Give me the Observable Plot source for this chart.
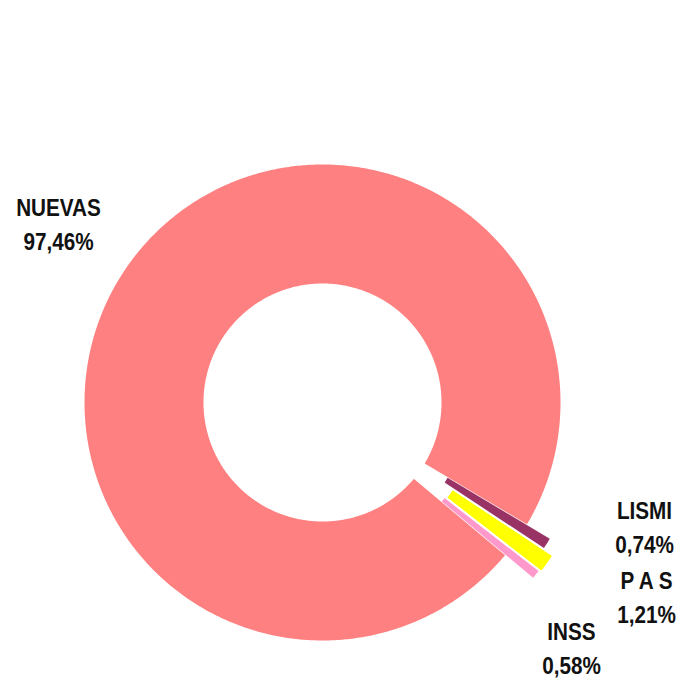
<!DOCTYPE html>
<html>
<head>
<meta charset="utf-8">
<script src="https://cdn.jsdelivr.net/npm/d3@7"></script>
<script src="https://cdn.jsdelivr.net/npm/@observablehq/plot@0.6"></script>
<style>
  html, body { margin: 0; padding: 0; background: #ffffff; }
  #chart svg { display: block; }
</style>
</head>
<body>
<div id="chart"></div>
<script>
// ---- data ----
const categories = ["LISMI", "P A S", "INSS", "NUEVAS"];
const values = [0.74, 1.21, 0.58, 97.46];
const percentLabels = ["0,74%", "1,21%", "0,58%", "97,46%"];
const colors = ["#993366", "#FFFF00", "#FF99CC", "#FF8080"];

// ---- layout ----
const W = 684, H = 683;
const CX = 322, CY = 402, R = 238;          // pixel centre and outer radius
const INNER = 0.5;                            // inner radius as share of outer
// explosion offset per slice (pixels)
const explodePx = {"LISMI": 27, "P A S": 38, "INSS": 36, "NUEVAS": 0};
const START_DEG = 120.8;
const TEXT_SQUEEZE = 0.9;                     // narrow-font look
const rad = d => d * Math.PI / 180;
const ux = px => (px - CX) / R;               // pixel -> data units
const uy = py => (CY - py) / R;
// label block centres (pixels)
const labelAt = {
  "NUEVAS": [58, 222],
  "LISMI": [644, 525],
  "P A S": [646, 595],
  "INSS": [571, 646]
};

const arcs = d3.pie().value(d => d).sort(null)
  .startAngle(rad(START_DEG)).endAngle(rad(START_DEG) + 2 * Math.PI)(values);

const pts = [];
arcs.forEach((a, i) => {
  const mid = (a.startAngle + a.endAngle) / 2;
  const off = explodePx[categories[i]] / R;
  const ox = Math.sin(mid) * off, oy = Math.cos(mid) * off;
  const n = Math.max(4, Math.ceil((a.endAngle - a.startAngle) / rad(0.5)));
  for (let k = 0; k <= n; k++) {
    const t = a.startAngle + (a.endAngle - a.startAngle) * k / n;
    pts.push({slice: categories[i], color: colors[i], x: ox + Math.sin(t), y: oy + Math.cos(t)});
  }
  for (let k = n; k >= 0; k--) {
    const t = a.startAngle + (a.endAngle - a.startAngle) * k / n;
    pts.push({slice: categories[i], color: colors[i], x: ox + INNER * Math.sin(t), y: oy + INNER * Math.cos(t)});
  }
});

const labels = categories.map((c, i) => ({
  text: c + "\n" + percentLabels[i],
  x: ux(labelAt[c][0]),
  y: uy(labelAt[c][1])
}));

const chart = Plot.plot({
  width: W,
  height: H,
  margin: 0,
  x: {domain: [ux(0), ux(W)], axis: null},
  y: {domain: [uy(H), uy(0)], axis: null},
  color: {type: "identity"},
  marks: [
    Plot.line(pts, {x: "x", y: "y", z: "slice", fill: "color", stroke: "none", curve: "linear-closed"}),
    Plot.text(labels, {
      x: "x", y: "y", text: "text",
      fontSize: 23, fontWeight: "bold", lineHeight: 1.48,
      fontFamily: "'Liberation Sans', Arial, sans-serif",
      fill: "#111111", textAnchor: "middle", lineAnchor: "middle"
    })
  ]
});
// give the labels the condensed look of the original
chart.querySelectorAll("text").forEach(t => {
  const tr = t.getAttribute("transform");
  if (tr) t.setAttribute("transform", tr + ` scale(${TEXT_SQUEEZE},1)`);
});
document.getElementById("chart").appendChild(chart);
</script>
</body>
</html>
